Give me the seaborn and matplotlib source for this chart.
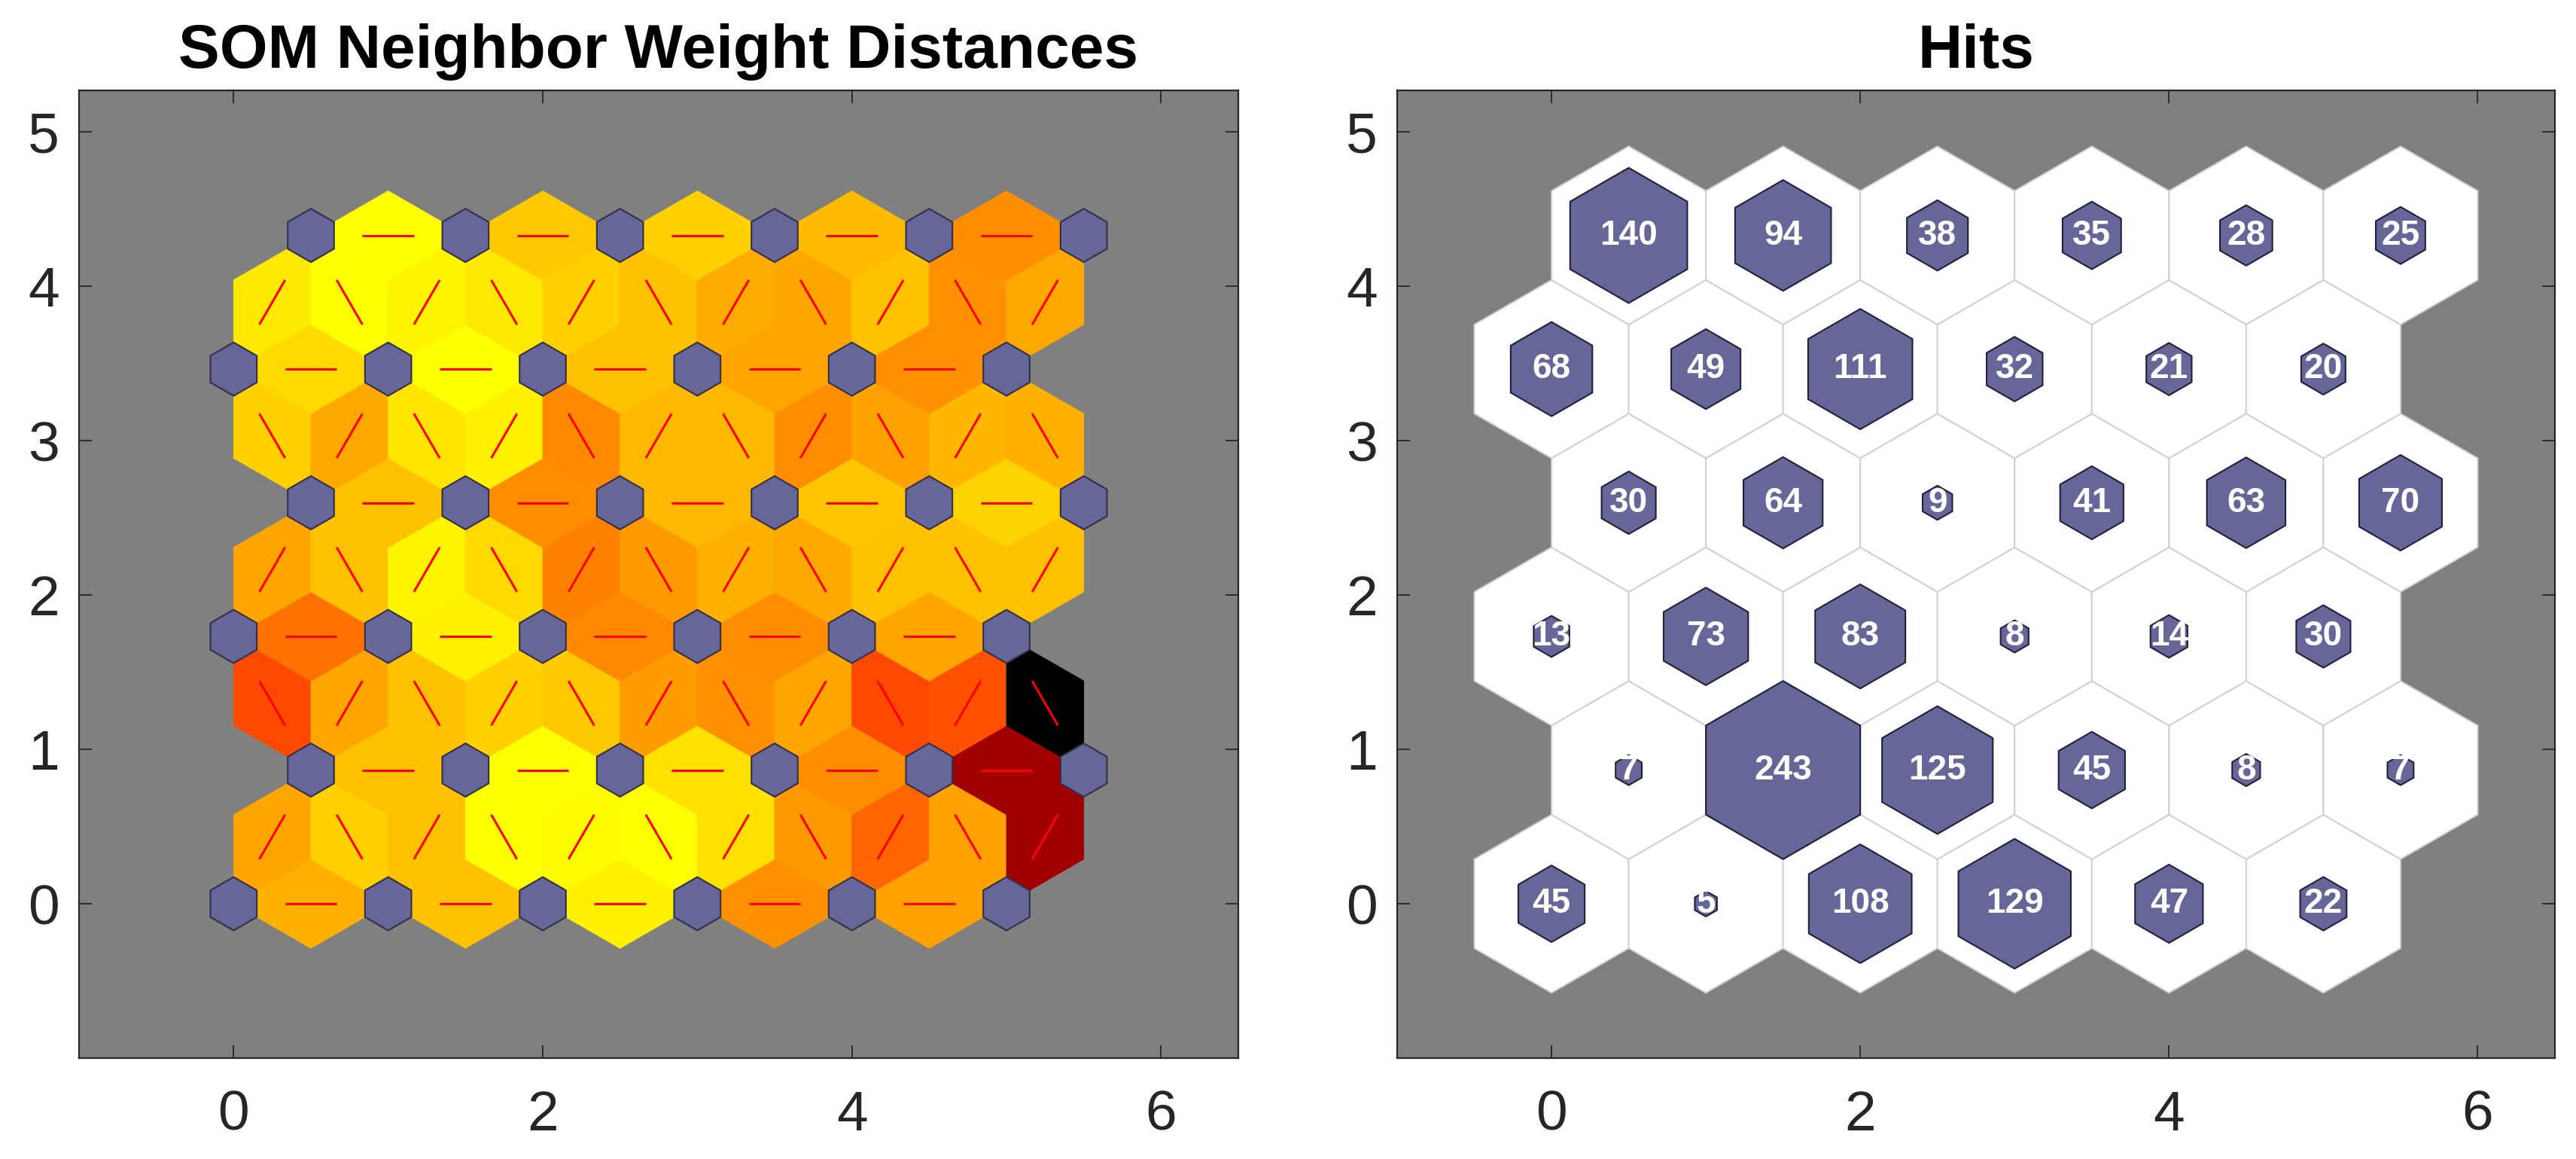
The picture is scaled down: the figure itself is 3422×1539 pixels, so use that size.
import numpy as np
import seaborn as sns
import matplotlib
matplotlib.use('Agg')
import matplotlib.pyplot as plt
from matplotlib.collections import PolyCollection, LineCollection

#############################################
########## 1. Data
#############################################
# hits per neuron, rows bottom -> top, left -> right
hits = [
    [45, 5, 108, 129, 47, 22],
    [7, 243, 125, 45, 8, 7],
    [13, 73, 83, 8, 14, 30],
    [30, 64, 9, 41, 63, 70],
    [68, 49, 111, 32, 21, 20],
    [140, 94, 38, 35, 28, 25],
]

# neighbor weight distances (normalised), horizontal edges per row
dist_h = [
    [0.155, 0.124, 0.029, 0.218, 0.186],
    [0.124, 0.000, 0.061, 0.225, 0.686],
    [0.280, 0.029, 0.233, 0.225, 0.176],
    [0.124, 0.225, 0.139, 0.116, 0.088],
    [0.076, 0.000, 0.124, 0.176, 0.218],
    [0.000, 0.108, 0.092, 0.135, 0.225],
]
# diagonal edges between row r and r+1, left -> right
dist_d = [
    [0.176, 0.092, 0.124, 0.000, 0.010, 0.000, 0.061, 0.202, 0.304, 0.186, 0.686],
    [0.359, 0.176, 0.124, 0.092, 0.108, 0.194, 0.218, 0.176, 0.359, 0.343, 1.000],
    [0.176, 0.124, 0.020, 0.078, 0.249, 0.202, 0.155, 0.171, 0.124, 0.124, 0.124],
    [0.092, 0.171, 0.053, 0.029, 0.233, 0.139, 0.139, 0.225, 0.186, 0.143, 0.155],
    [0.045, 0.000, 0.020, 0.045, 0.092, 0.124, 0.167, 0.176, 0.124, 0.218, 0.171],
]

titles = ['SOM Neighbor Weight Distances', 'Hits']
xticks = [0, 2, 4, 6]
yticks = [0, 1, 2, 3, 4, 5]

#############################################
########## 2. Style
#############################################
sns.set_style('ticks')
plt.rcParams['font.family'] = ['Liberation Sans', 'DejaVu Sans']

neuron_color = '#666699'
dark = '#262626'
cmap = sns.blend_palette(['#ffff00', '#ff0000', '#000000'], as_cmap=True)

nrows, ncols = len(hits), len(hits[0])
h = np.sqrt(3) / 2

def pos(i, r):
    return np.array([i + 0.5 * (r % 2), r * h])

ang = np.deg2rad(90 + 60 * np.arange(6))
hexshape = np.c_[np.cos(ang), np.sin(ang)] / np.sqrt(3)

positions = {(i, r): pos(i, r) for r in range(nrows) for i in range(ncols)}

# edges between neighbouring neurons (lower end first)
edges = []
keys = list(positions)
for a in range(len(keys)):
    for b in range(a + 1, len(keys)):
        p1, p2 = positions[keys[a]], positions[keys[b]]
        if abs(np.linalg.norm(p2 - p1) - 1) < 1e-6:
            if p2[1] < p1[1] - 1e-9:
                p1, p2 = p2, p1
            edges.append((p1, p2))

def edge_dist(p1, p2):
    m = (p1 + p2) / 2
    r = int(round(p1[1] / h))
    if abs(p1[1] - p2[1]) < 1e-6:
        return dist_h[r][int(round(m[0] - 0.5 * (r % 2) - 0.5))]
    return dist_d[r][int(round((m[0] - 0.25) / 0.5))]

#############################################
########## 3. Plot
#############################################
fig = plt.figure(figsize=(34.23, 15.39), dpi=100)
W, H = 3423, 1539
ax1 = fig.add_axes([105 / W, 134 / H, 1540 / W, 1285 / H])
ax2 = fig.add_axes([1856 / W, 134 / H, 1538 / W, 1285 / H])

# Neighbor distances
vals = np.array([edge_dist(p1, p2) for p1, p2 in edges])
norm = (vals - vals.min()) / (vals.max() - vals.min())
rhombi, segs = [], []
for p1, p2 in edges:
    d = p2 - p1
    n = np.array([-d[1], d[0]]) / (2 * np.sqrt(3))
    m = (p1 + p2) / 2
    rhombi.append([p1, m + n, p2, m - n])
    segs.append([p1 + d / 3, p1 + 2 * d / 3])
cols = cmap(norm)
ax1.add_collection(PolyCollection(rhombi, facecolors=cols, edgecolors=cols, linewidths=0.6))
ax1.add_collection(LineCollection(segs, colors='#ff0000', linewidths=2.2))
neurons = [p + hexshape * 0.3 for p in positions.values()]
ax1.add_collection(PolyCollection(neurons, facecolors=neuron_color, edgecolors='#30304a', linewidths=1.5))

# Hits
hmax = max(max(r) for r in hits)
cells = [p + hexshape for p in positions.values()]
ax2.add_collection(PolyCollection(cells, facecolors='white', edgecolors='#d0d0d0', linewidths=1.4))
inner, labels = [], []
for (i, r), p in positions.items():
    v = hits[r][i]
    inner.append(p + hexshape * np.sqrt(v / hmax))
    labels.append((p, v))
ax2.add_collection(PolyCollection(inner, facecolors=neuron_color, edgecolors='#20203a', linewidths=1.5))
for p, v in labels:
    ax2.text(p[0], p[1], str(v), ha='center', va='center', color='white',
             fontsize=33, fontweight='bold')

for ax, title in zip([ax1, ax2], titles):
    ax.set_facecolor('#808080')
    ax.set_xlim(-1, 6.5)
    ax.set_ylim(-1, 5.27)
    ax.set_xticks(xticks)
    ax.set_yticks(yticks)
    ax.tick_params(direction='in', length=12, width=1.3, color=dark, labelsize=54,
                   top=True, right=True, labelcolor=dark)
    ax.tick_params(axis='x', pad=30)
    ax.tick_params(axis='y', pad=19)
    for s in ax.spines.values():
        s.set_visible(True)
        s.set_color(dark)
        s.set_linewidth(1.6)
    bb = ax.get_position()
    fig.text((bb.x0 + bb.x1) / 2, 1 - 90 / H, title, ha='center', va='baseline',
             fontsize=59, fontweight='bold', color='black')

fig.savefig('out.png', dpi=100, facecolor='white')
